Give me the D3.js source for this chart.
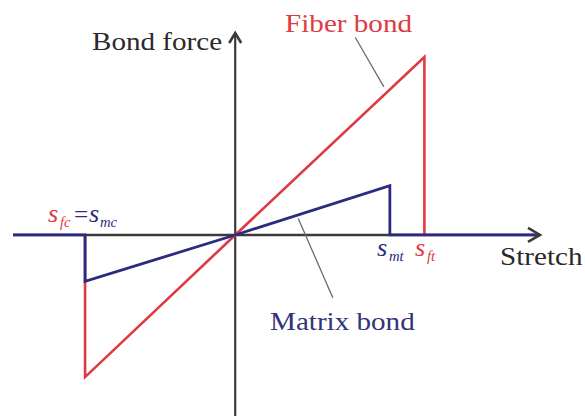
<!DOCTYPE html>
<html>
<head>
<meta charset="utf-8">
<script src="https://cdn.jsdelivr.net/npm/d3@7"></script>
<style>
  html, body { margin: 0; padding: 0; background: #ffffff; }
  svg { display: block; }
  text { font-family: "Liberation Serif", "DejaVu Serif", serif; }
</style>
</head>
<body>
<svg id="chart" width="585" height="416"></svg>
<script>
// Bond force vs. stretch: bilinear-with-drop laws for fiber and matrix bonds
const axisStretch = [-1.48, 2.03];   // extent of the stretch axis
const axisForce = [-1.21, 1.35];     // extent of the force axis

const fiberStretch = [-1.0, -1.0, 0, 1.26, 1.26];
const fiberForce   = [0, -0.95, 0, 1.19, 0];

const matrixStretch = [-1.48, -1.0, -1.0, 0, 1.03, 1.03, 2.0];
const matrixForce   = [0, 0, -0.31, 0, 0.33, 0, 0];

// leader lines from the curve names to their curves [stretch, force]
const fiberLeader  = [[0.80, 1.32], [0.99, 0.99]];
const matrixLeader = [[0.42, 0.11], [0.65, -0.42]];

const svg = d3.select("#chart");
const x = d3.scaleLinear().domain(axisStretch).range([13, 540]);
const y = d3.scaleLinear().domain(axisForce).range([416, 33]);

const RED = "#de3a42";
const NAVY = "#2c2b80";
const AXIS = "#3a3a3a";

const line = d3.line().x(d => x(d[0])).y(d => y(d[1]));

// axes
svg.append("line")
  .attr("x1", x(axisStretch[0])).attr("x2", x(axisStretch[1]))
  .attr("y1", y(0)).attr("y2", y(0))
  .attr("stroke", AXIS).attr("stroke-width", 2.4);
svg.append("line")
  .attr("x1", x(0)).attr("x2", x(0))
  .attr("y1", y(axisForce[0])).attr("y2", y(axisForce[1]))
  .attr("stroke", AXIS).attr("stroke-width", 2.2);

// fiber bond law
svg.append("path")
  .datum(d3.zip(fiberStretch, fiberForce))
  .attr("d", line)
  .attr("fill", "none").attr("stroke", RED)
  .attr("stroke-width", 2.6).attr("stroke-linejoin", "miter");

// matrix bond law
svg.append("path")
  .datum(d3.zip(matrixStretch, matrixForce))
  .attr("d", line)
  .attr("fill", "none").attr("stroke", NAVY)
  .attr("stroke-width", 2.8).attr("stroke-linejoin", "miter");

// arrowheads
const ax = x(axisStretch[1]), ay = y(0);
svg.append("path")
  .attr("d", `M${ax - 12},${ay - 7} L${ax},${ay} L${ax - 12},${ay + 7}`)
  .attr("fill", "none").attr("stroke", AXIS).attr("stroke-width", 2.6);
const tx = x(0), ty = y(axisForce[1]);
svg.append("path")
  .attr("d", `M${tx - 6},${ty + 10} L${tx},${ty} L${tx + 6},${ty + 10}`)
  .attr("fill", "none").attr("stroke", AXIS).attr("stroke-width", 2.6);

// leader lines
[fiberLeader, matrixLeader].forEach(l => {
  svg.append("line")
    .attr("x1", x(l[0][0])).attr("y1", y(l[0][1]))
    .attr("x2", x(l[1][0])).attr("y2", y(l[1][1]))
    .attr("stroke", "#6a6a72").attr("stroke-width", 1.3);
});

// text helper with a slightly widened serif face
function label(tx, ty, str, opts) {
  const o = Object.assign({ size: 26, color: "#2a2a2a", italic: false, anchor: "start", sx: 1.12 }, opts || {});
  svg.append("text")
    .attr("transform", `translate(${tx},${ty}) scale(${o.sx},1)`)
    .attr("text-anchor", o.anchor)
    .attr("font-size", o.size)
    .attr("font-style", o.italic ? "italic" : "normal")
    .attr("fill", o.color)
    .text(str);
}

label(92, 50, "Bond force");
label(500, 265, "Stretch");
label(412, 32, "Fiber bond", { color: RED, anchor: "end" });
label(270, 330, "Matrix bond", { color: "#33337a" });

// stretch markers
label(48, 222, "s", { size: 25, italic: true, color: RED, sx: 1.05 });
label(60, 227, "fc", { size: 14, italic: true, color: RED, sx: 1.05 });
label(74, 222, "=", { size: 24, color: NAVY, sx: 1.05 });
label(89, 222, "s", { size: 25, italic: true, color: NAVY, sx: 1.05 });
label(100, 227, "mc", { size: 14, italic: true, color: NAVY, sx: 1.05 });

label(377, 256, "s", { size: 25, italic: true, color: NAVY, sx: 1.05 });
label(389, 261, "mt", { size: 14, italic: true, color: NAVY, sx: 1.05 });
label(415, 256, "s", { size: 25, italic: true, color: RED, sx: 1.05 });
label(427, 261, "ft", { size: 14, italic: true, color: RED, sx: 1.05 });
</script>
</body>
</html>
